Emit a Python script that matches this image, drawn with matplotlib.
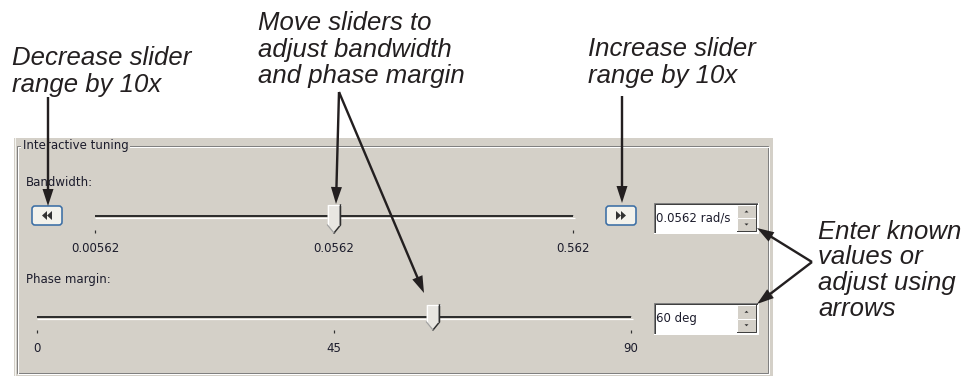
import matplotlib
matplotlib.use('Agg')
import matplotlib.pyplot as plt
from matplotlib.patches import Rectangle, Polygon, FancyBboxPatch

# ---------------- data ----------------
bw_ticks = [0.00562, 0.0562, 0.562]
bw_tick_labels = ['0.00562', '0.0562', '0.562']
bw_value = 0.0562
bw_entry = '0.0562 rad/s'
pm_ticks = [0, 45, 90]
pm_tick_labels = ['0', '45', '90']
pm_value = 60
pm_entry = '60 deg'
panel_title = 'Interactive tuning'
bw_label = 'Bandwidth:'
pm_label = 'Phase margin:'
note_decrease = ['Decrease slider', 'range by 10x']
note_move = ['Move sliders to', 'adjust bandwidth', 'and phase margin']
note_increase = ['Increase slider', 'range by 10x']
note_enter = ['Enter known', 'values or', 'adjust using', 'arrows']

# ---------------- figure ----------------
W, H = 977, 376
fig = plt.figure(figsize=(W / 100, H / 100), dpi=100)
fig.patch.set_facecolor('white')
ax = fig.add_axes([0, 0, 1, 1])
ax.set_xlim(0, W)
ax.set_ylim(H, 0)
ax.axis('off')

BG = '#d4d0c8'
PX = 0.72          # points per pixel
UI_FONT = 'DejaVu Sans'
UI_SIZE = 8.5
UI_COLOR = '#1c1c2c'
NOTE_COLOR = '#231f20'
NOTE_SIZE = 18.5

# panel background and etched group frame
ax.add_patch(Rectangle((14, 138), 759, 240, fc=BG, ec='none', zorder=0))
ax.plot([14.5, 14.5], [138, 376], color='#f4f4f0', lw=PX, zorder=1)
ax.add_patch(Rectangle((17, 146), 751, 227, fill=False, ec='#808080', lw=PX, zorder=1))
ax.add_patch(Rectangle((18, 147), 751, 227, fill=False, ec='#ffffff', lw=PX, zorder=1))
ax.text(23, 146, panel_title, fontsize=UI_SIZE, family=UI_FONT, color=UI_COLOR,
        va='center', ha='left', zorder=2,
        bbox=dict(fc=BG, ec='none', pad=1.2))

ax.text(26, 182, bw_label, fontsize=UI_SIZE, family=UI_FONT, color=UI_COLOR,
        va='center', ha='left', zorder=2)
ax.text(26, 280, pm_label, fontsize=UI_SIZE, family=UI_FONT, color=UI_COLOR,
        va='center', ha='left', zorder=2)


def slider_axes(x0, x1, y, scale, lim):
    a = fig.add_axes([x0 / W, 1 - (y + 1) / H, (x1 - x0) / W, 2 / H])
    a.set_xscale(scale)
    a.set_xlim(lim)
    a.axis('off')
    return a


def xpix(a, v):
    disp = a.transData.transform((v, 0.5))
    return ax.transData.inverted().transform(disp)[0]


def draw_slider(a, x0, x1, y, ticks, labels, value, tick_y, label_y,
                thumb_top, rect_bottom, tip):
    # track
    ax.plot([x0, x1], [y - 1.5, y - 1.5], color='#808080', lw=PX, zorder=2,
            solid_capstyle='butt')
    ax.plot([x0, x1], [y, y], color='#2e2e2e', lw=2 * PX, zorder=2,
            solid_capstyle='butt')
    ax.plot([x0, x1 + 2], [y + 1.8, y + 1.8], color='#ffffff', lw=1.2 * PX, zorder=2,
            solid_capstyle='butt')
    # ticks + labels
    for v, lab in zip(ticks, labels):
        xv = xpix(a, v)
        ax.plot([xv, xv], [tick_y, tick_y + 3], color='#303030', lw=1.2 * PX, zorder=2,
                solid_capstyle='butt')
        ax.text(xv, label_y, lab, fontsize=UI_SIZE, family=UI_FONT, color=UI_COLOR,
                ha='center', va='center', zorder=2)
    # thumb
    xc = xpix(a, value)
    hw = 6.5
    pts = [(xc - hw, thumb_top), (xc + hw, thumb_top), (xc + hw, rect_bottom),
           (xc, tip), (xc - hw, rect_bottom)]
    ax.add_patch(Polygon(pts, closed=True, fc='#e8e6e1', ec='none', zorder=3))
    ax.plot([xc - hw, xc - hw, xc + hw], [rect_bottom, thumb_top, thumb_top],
            color='#ffffff', lw=1.2 * PX, zorder=4)
    ax.plot([xc + hw, xc + hw, xc], [thumb_top, rect_bottom, tip],
            color='#303030', lw=1.5 * PX, zorder=4)
    ax.plot([xc - hw, xc], [rect_bottom, tip], color='#a0a0a0', lw=1.2 * PX, zorder=4)
    ax.plot([xc + hw - 1.5, xc + hw - 1.5], [thumb_top + 1, rect_bottom],
            color='#909090', lw=PX, zorder=4)
    return xc


bw_ax = slider_axes(95, 573, 216, 'log', (bw_ticks[0], bw_ticks[-1]))
draw_slider(bw_ax, 95, 573, 216, bw_ticks, bw_tick_labels, bw_value,
            230, 249, 205, 225, 233)
pm_ax = slider_axes(37, 631, 317, 'linear', (pm_ticks[0], pm_ticks[-1]))
draw_slider(pm_ax, 37, 631, 317, pm_ticks, pm_tick_labels, pm_value,
            330, 349, 305, 322, 330)


# range buttons
def range_button(x, y, direction):
    ax.add_patch(FancyBboxPatch((x, y), 30, 19,
                                boxstyle='round,pad=0,rounding_size=3',
                                fc='#f3f2ec', ec='#3b6ea5', lw=1.6 * PX, zorder=3))
    cx, cy = x + 15, y + 9.5
    for off in (-5, 0):
        if direction < 0:
            tri = [(cx + off, cy), (cx + off + 5, cy - 4.5), (cx + off + 5, cy + 4.5)]
        else:
            tri = [(cx - off, cy), (cx - off - 5, cy - 4.5), (cx - off - 5, cy + 4.5)]
        ax.add_patch(Polygon(tri, closed=True, fc='#333333', ec='none', zorder=4))


range_button(32, 206, -1)
range_button(606, 206, +1)


# edit boxes with spin buttons
def edit_box(x, y, w, h, txt):
    ax.add_patch(Rectangle((x, y), w, h, fc='#ffffff', ec='none', zorder=3))
    ax.plot([x, x, x + w], [y + h, y, y], color='#808080', lw=PX, zorder=4)
    ax.plot([x + 1, x + 1, x + w - 1], [y + h - 1, y + 1, y + 1], color='#404040', lw=PX, zorder=4)
    ax.plot([x, x + w, x + w], [y + h, y + h, y], color='#ffffff', lw=PX, zorder=4)
    ax.text(x + 2, y + h / 2, txt, fontsize=UI_SIZE, family=UI_FONT, color=UI_COLOR,
            ha='left', va='center', zorder=5)
    sx, sw = x + w - 21, 19
    sh = (h - 4) / 2
    for i, up in enumerate((True, False)):
        sy = y + 2 + i * sh
        ax.add_patch(Rectangle((sx, sy), sw, sh, fc=BG, ec='none', zorder=4))
        ax.plot([sx, sx, sx + sw], [sy + sh, sy, sy], color='#ffffff', lw=PX, zorder=5)
        ax.plot([sx, sx + sw, sx + sw], [sy + sh, sy + sh, sy], color='#404040', lw=PX, zorder=5)
        cx, cy = sx + sw / 2, sy + sh / 2
        if up:
            tri = [(cx - 2, cy + 1), (cx + 2, cy + 1), (cx, cy - 1)]
        else:
            tri = [(cx - 2, cy - 1), (cx + 2, cy - 1), (cx, cy + 1)]
        ax.add_patch(Polygon(tri, closed=True, fc='#303030', ec='none', zorder=6))


edit_box(654, 203, 104, 30, bw_entry)
edit_box(654, 303, 104, 31, pm_entry)


# annotation notes
def note(lines, x, y0, step=26.5):
    for i, ln in enumerate(lines):
        ax.text(x, y0 + i * step, ln, fontsize=NOTE_SIZE, family='Liberation Sans',
                style='italic', color=NOTE_COLOR, ha='left', va='baseline', zorder=6)


note(note_decrease, 12, 65, 27)
note(note_move, 258, 30, 26.5)
note(note_increase, 588, 56, 27)
note(note_enter, 818, 239, 25.5)


def arrow(x0, y0, x1, y1):
    ax.arrow(x0, y0, x1 - x0, y1 - y0, width=2.4, head_width=11, head_length=17,
             length_includes_head=True, fc=NOTE_COLOR, ec='none', zorder=7)


arrow(48, 97, 48, 206)
arrow(339, 92, 336, 204)
arrow(339, 92, 424, 293)
arrow(622, 96, 622, 203)
arrow(812, 262, 757, 228)
arrow(812, 262, 757, 304)

fig.savefig('out.png', dpi=100, facecolor='white')
